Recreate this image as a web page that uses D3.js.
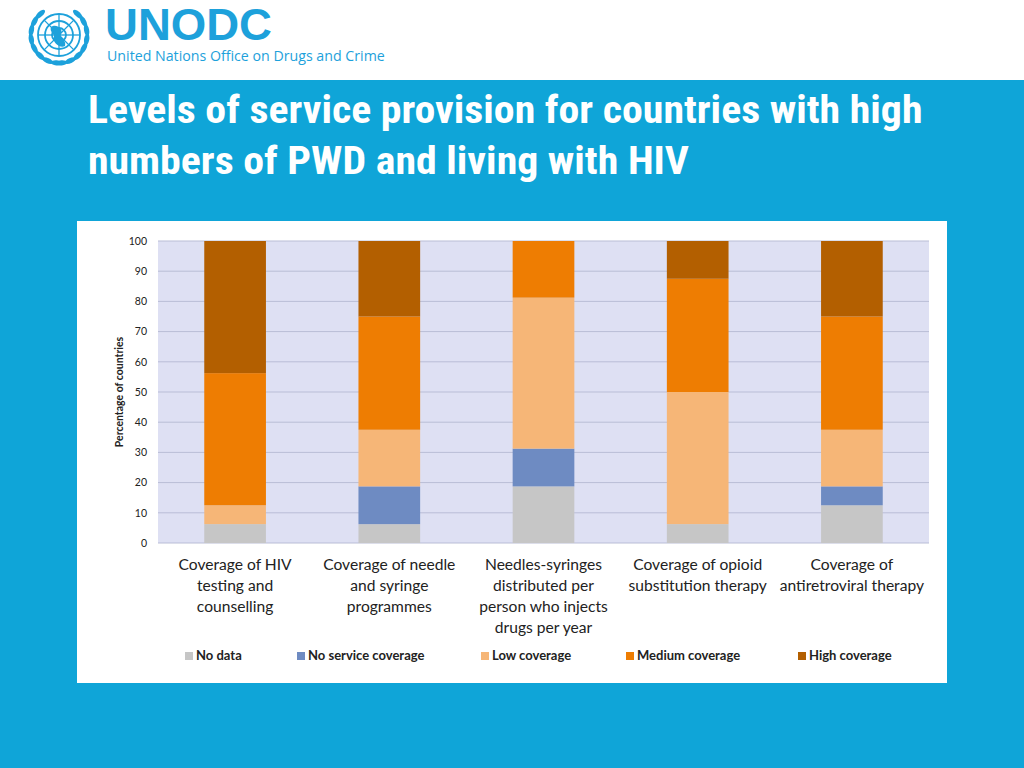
<!DOCTYPE html>
<html><head><meta charset="utf-8">
<script src="https://cdn.jsdelivr.net/npm/d3@7"></script>
<style>
html,body{margin:0;padding:0;background:#fff;}
svg{display:block;}
</style></head>
<body>
<svg id="c" width="1024" height="768"></svg>
<script>
const categories = [
  ["Coverage of HIV","testing and","counselling"],
  ["Coverage of needle","and syringe","programmes"],
  ["Needles-syringes","distributed per","person who injects","drugs per year"],
  ["Coverage of opioid","substitution therapy"],
  ["Coverage of","antiretroviral therapy"]
];
const seriesNames = ["No data","No service coverage","Low coverage","Medium coverage","High coverage"];
const seriesColors = ["#C6C6C6","#6E8BC2","#F6B677","#EE7D02","#B35F00"];
const noData      = [6.25, 6.25, 18.75, 6.25, 12.5];
const noService   = [0, 12.5, 12.5, 0, 6.25];
const lowCov      = [6.25, 18.75, 50, 43.75, 18.75];
const mediumCov   = [43.75, 37.5, 18.75, 37.5, 37.5];
const highCov     = [43.75, 25, 0, 12.5, 25];
const yTicks = [0,10,20,30,40,50,60,70,80,90,100];

const svg = d3.select("#c");
svg.append("rect").attr("x",0).attr("y",0).attr("width",1024).attr("height",768).attr("fill","#0FA5D8");
svg.append("rect").attr("x",0).attr("y",0).attr("width",1024).attr("height",80).attr("fill","#fff");

// UN emblem approximation
const blue = "#1DA1DB";
const logo = svg.append("g").attr("transform","translate(59,35)");
const globe = logo.append("g").attr("fill","none").attr("stroke",blue);
[7,14,21].forEach(r=>globe.append("circle").attr("r",r).attr("stroke-width",1.8));
for(let i=0;i<8;i++){const a=i*Math.PI/4;globe.append("line").attr("x1",0).attr("y1",0).attr("x2",21*Math.cos(a)).attr("y2",21*Math.sin(a)).attr("stroke-width",1.3);}
logo.append("path").attr("d","M-8,-8 C-3,-12 5,-6 2,-1 C0,3 8,5 6,11 C1,14 -7,7 -5,2 C-4,-1 -10,-3 -8,-8 Z").attr("fill",blue);
[-1,1].forEach(s=>{
  for(let k=0;k<8;k++){
    const deg = 95 + k*19;               // from bottom towards upper side
    const a = deg*Math.PI/180;
    const cx = s*-1*28*Math.cos(a)*-1, cy = 28*Math.sin(a);
    const px = s<0 ? 28*Math.cos(a) : -28*Math.cos(a);
    const rot = s<0 ? deg : 180-deg;
    logo.append("ellipse").attr("rx",2.6).attr("ry",6)
      .attr("transform",`translate(${px},${cy}) rotate(${rot})`).attr("fill",blue);
  }
});

svg.append("text").attr("x",105).attr("y",40).attr("font-family","Liberation Sans, Arial, sans-serif").attr("font-weight","bold")
  .attr("font-size",44).attr("fill",blue).attr("textLength",167).attr("lengthAdjust","spacingAndGlyphs").text("UNODC");
svg.append("text").attr("x",107).attr("y",61).attr("font-family","Open Sans, sans-serif")
  .attr("font-size",14.2).attr("fill",blue).text("United Nations Office on Drugs and Crime");

// title
const titleFont = "'Liberation Sans Narrow','Arial Narrow','Roboto Condensed',sans-serif";
const tl = ["Levels of service provision for countries with high","numbers of PWD and living with HIV"];
const tg = svg.append("g").attr("transform","translate(88,0) scale(1.1,1)");
tl.forEach((t,i)=>tg.append("text").attr("x",0).attr("y",123+i*51).attr("font-family",titleFont)
  .attr("font-weight","bold").attr("font-size",38).attr("fill","#fff").text(t));

// panel
svg.append("rect").attr("x",77).attr("y",221).attr("width",870).attr("height",462).attr("fill","#fff");

const x0=158,x1=929,yTop=241,yBot=543;
const x = d3.scaleBand().domain(d3.range(categories.length)).range([x0,x1]).paddingInner(0.6).paddingOuter(0.3);
const y = d3.scaleLinear().domain([0,100]).range([yBot,yTop]);

svg.append("rect").attr("x",x0).attr("y",yTop).attr("width",x1-x0).attr("height",yBot-yTop).attr("fill","#DEE0F3");
const grid = svg.append("g");
yTicks.forEach(t=>grid.append("line").attr("x1",x0).attr("x2",x1).attr("y1",y(t)).attr("y2",y(t)).attr("stroke","#B9BDD6").attr("stroke-width",1));

const yAxis = svg.append("g").attr("transform",`translate(${x0},0)`)
  .call(d3.axisLeft(y).tickValues(yTicks).tickSize(0).tickPadding(11));
yAxis.select(".domain").remove();
yAxis.selectAll("text").attr("font-family","Lato, 'Open Sans', sans-serif").attr("font-size",10.5).attr("fill","#222");

svg.append("text").attr("transform",`translate(123,${(yTop+yBot)/2}) rotate(-90)`).attr("text-anchor","middle")
  .attr("font-family","Lato, 'Open Sans', sans-serif").attr("font-weight","bold").attr("font-size",10.5).attr("fill","#222")
  .text("Percentage of countries");

const data = categories.map((c,i)=>({i,noData:noData[i],noService:noService[i],low:lowCov[i],medium:mediumCov[i],high:highCov[i]}));
const keys = ["noData","noService","low","medium","high"];
const stack = d3.stack().keys(keys)(data);
svg.append("g").selectAll("g").data(stack).join("g").attr("fill",(d,k)=>seriesColors[k])
  .selectAll("rect").data(d=>d).join("rect")
  .attr("x",d=>x(d.data.i)).attr("width",x.bandwidth())
  .attr("y",d=>y(d[1])).attr("height",d=>y(d[0])-y(d[1]));

// x labels
categories.forEach((lines,i)=>{
  const cx = x(i)+x.bandwidth()/2;
  const t = svg.append("text").attr("text-anchor","middle").attr("font-family","Lato, 'Open Sans', sans-serif")
    .attr("font-size",15.6).attr("fill","#222");
  lines.forEach((l,j)=>t.append("tspan").attr("x",cx).attr("y",570+j*21).text(l));
});

// legend
const legX = [185,297,481,626,798];
seriesNames.forEach((n,k)=>{
  svg.append("rect").attr("x",legX[k]).attr("y",652).attr("width",8).attr("height",8).attr("fill",seriesColors[k]);
  svg.append("text").attr("x",legX[k]+11).attr("y",660).attr("font-family","Lato, 'Open Sans', sans-serif")
    .attr("font-weight","bold").attr("font-size",13).attr("fill","#222").text(n);
});
</script>
</body></html>
